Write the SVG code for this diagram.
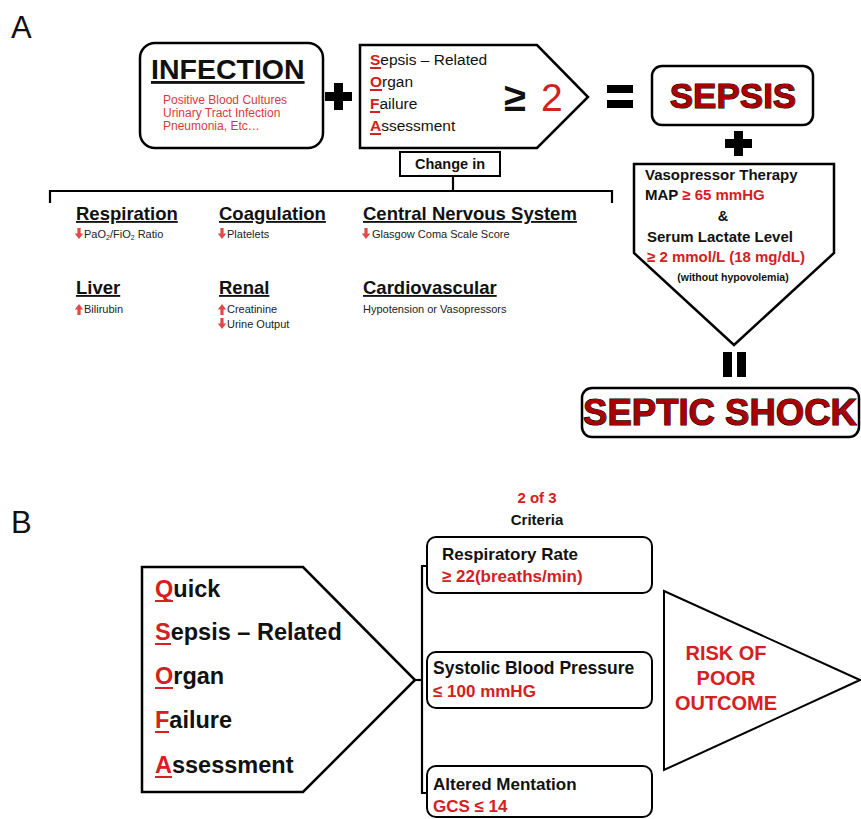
<svg xmlns="http://www.w3.org/2000/svg" width="861" height="819" viewBox="0 0 861 819">
<style>
text{font-family:"Liberation Sans",Arial,sans-serif;}
.box{fill:#fff;stroke:#000;stroke-width:2.5;}
.thin{fill:#fff;stroke:#000;stroke-width:2;}
.b{font-weight:bold;}
.red{fill:#d42020;}
.lred{fill:#d83a3a;}
.blk{fill:#111;}
.hdr{font-weight:bold;font-size:18.5px;fill:#111;text-decoration:underline;}
.sub{font-size:11px;fill:#222;}
.big{font-weight:bold;fill:#a80000;stroke:#000;stroke-width:1.1;paint-order:stroke;}
.ul{stroke:#d42020;stroke-width:2;}
.line{fill:none;stroke:#000;stroke-width:2.2;}
</style>
<defs>
<path id="dn" d="M-1.6,-6 h3.2 v5.5 h2.6 l-4.2,5.5 l-4.2,-5.5 h2.6 z" fill="#e24848"/>
<path id="up" d="M-1.6,6 h3.2 v-5.5 h2.6 l-4.2,-5.5 l-4.2,5.5 h2.6 z" fill="#e24848"/>
</defs>
<rect width="861" height="819" fill="#fff"/>
<text x="11" y="38" font-size="31" class="blk">A</text>
<text x="11" y="533" font-size="31" class="blk">B</text>

<g id="connectors">
<path class="line" d="M50,203 V191 H612 V203"/>
<path class="line" d="M453,191 V176"/>
<path class="line" d="M428,566 H422 V793 H428"/>
<path class="line" d="M415,680 H422"/>
</g>

<g id="infection">
<rect class="box" x="140" y="43" width="183" height="105" rx="15"/>
<text x="151" y="79" font-size="28.5" class="b blk" text-decoration="underline">INFECTION</text>
<text x="163" y="104" font-size="12" class="lred">Positive Blood Cultures</text>
<text x="163" y="117" font-size="12" class="lred">Urinary Tract Infection</text>
<text x="163" y="130" font-size="12" class="lred">Pneumonia,  Etc…</text>
</g>
<g id="plus1"><rect x="325" y="92" width="27" height="9" fill="#000"/><rect x="334" y="83" width="9" height="27" fill="#000"/></g>

<g id="sofa">
<polygon class="box" points="360,45 537,45 588,97 537,148 360,148"/>
<text x="370" y="65" font-size="15.5" class="blk"><tspan class="b red">S</tspan>epsis – Related</text>
<text x="370" y="87" font-size="15.5" class="blk"><tspan class="b red">O</tspan>rgan</text>
<text x="370" y="109" font-size="15.5" class="blk"><tspan class="b red">F</tspan>ailure</text>
<text x="370" y="131" font-size="15.5" class="blk"><tspan class="b red">A</tspan>ssessment</text>
<line class="ul" x1="370" y1="68" x2="381" y2="68"/>
<line class="ul" x1="370" y1="90" x2="382" y2="90"/>
<line class="ul" x1="370" y1="112" x2="380" y2="112"/>
<line class="ul" x1="370" y1="134" x2="381" y2="134"/>
<text x="504" y="111" font-size="40" class="b blk">≥</text>
<text x="541" y="111" font-size="39" class="red">2</text>
</g>

<g id="changein">
<rect class="thin" x="400" y="152" width="100" height="24"/>
<text x="450" y="169" font-size="14.5" class="b blk" text-anchor="middle">Change in</text>
</g>

<g id="eq1"><rect x="607" y="85" width="26" height="8" fill="#000"/><rect x="607" y="100" width="26" height="8" fill="#000"/></g>

<g id="sepsis">
<rect class="box" x="652" y="66" width="161" height="59" rx="10"/>
<text x="733" y="108" font-size="35" class="big" text-anchor="middle">SEPSIS</text>
</g>
<g id="plus2"><rect x="725" y="139" width="27" height="9" fill="#000"/><rect x="734" y="131" width="9" height="25" fill="#000"/></g>

<g id="vaso">
<polygon class="box" points="634,164 834,164 834,253 734,345 634,253"/>
<text x="645" y="180" font-size="15" class="b blk">Vasopressor Therapy</text>
<text x="645" y="200" font-size="15" class="b blk">MAP <tspan class="red">≥ 65 mmHG</tspan></text>
<text x="723" y="221" font-size="14.5" class="b blk" text-anchor="middle">&amp;</text>
<text x="647" y="242" font-size="15" class="b blk">Serum Lactate Level</text>
<text x="647" y="262" font-size="15" class="b red">≥ 2 mmol/L (18 mg/dL)</text>
<text x="733" y="281" font-size="10.5" class="b blk" text-anchor="middle">(without hypovolemia)</text>
</g>

<g id="eq2"><rect x="723" y="352" width="9" height="25" fill="#000"/><rect x="737" y="352" width="9" height="25" fill="#000"/></g>

<g id="septicshock">
<rect class="box" x="582" y="388" width="277" height="49" rx="10"/>
<text x="720" y="425" font-size="36.5" class="big" text-anchor="middle">SEPTIC SHOCK</text>
</g>

<g id="respiration">
<text x="76" y="220" class="hdr">Respiration</text>
<use href="#dn" x="79" y="234"/>
<text x="84" y="238" class="sub">PaO<tspan font-size="7" dy="2">2</tspan><tspan dy="-2">/FiO</tspan><tspan font-size="7" dy="2">2</tspan><tspan dy="-2"> Ratio</tspan></text>
</g>
<g id="coagulation">
<text x="219" y="220" class="hdr">Coagulation</text>
<use href="#dn" x="222" y="234"/>
<text x="227" y="238" class="sub">Platelets</text>
</g>
<g id="cns">
<text x="363" y="220" class="hdr">Central Nervous System</text>
<use href="#dn" x="366" y="234"/>
<text x="372" y="238" class="sub">Glasgow Coma Scale Score</text>
</g>
<g id="liver">
<text x="76" y="294" class="hdr">Liver</text>
<use href="#up" x="79" y="309"/>
<text x="84" y="313" class="sub">Bilirubin</text>
</g>
<g id="renal">
<text x="219" y="294" class="hdr">Renal</text>
<use href="#up" x="222" y="309"/>
<text x="227" y="313" class="sub">Creatinine</text>
<use href="#dn" x="222" y="324"/>
<text x="227" y="328" class="sub">Urine Output</text>
</g>
<g id="cardio">
<text x="363" y="294" class="hdr">Cardiovascular</text>
<text x="363" y="313" class="sub">Hypotension or Vasopressors</text>
</g>

<g id="qsofa">
<polygon class="box" points="142,567 303,567 415,680 303,792 142,792"/>
<text x="155" y="597" font-size="23.5" class="b blk"><tspan class="red">Q</tspan>uick</text>
<text x="155" y="640" font-size="23.5" class="b blk"><tspan class="red">S</tspan>epsis – Related</text>
<text x="155" y="684" font-size="23.5" class="b blk"><tspan class="red">O</tspan>rgan</text>
<text x="155" y="728" font-size="23.5" class="b blk"><tspan class="red">F</tspan>ailure</text>
<text x="155" y="773" font-size="23.5" class="b blk"><tspan class="red">A</tspan>ssessment</text>
<line class="ul" x1="155" y1="601" x2="173" y2="601"/>
<line class="ul" x1="155" y1="644" x2="171" y2="644"/>
<line class="ul" x1="155" y1="688" x2="173" y2="688"/>
<line class="ul" x1="155" y1="732" x2="169" y2="732"/>
<line class="ul" x1="155" y1="777" x2="172" y2="777"/>
</g>

<g id="criteria">
<text x="537" y="503" font-size="15" class="b red" text-anchor="middle">2 of 3</text>
<text x="537" y="525" font-size="15" class="b blk" text-anchor="middle">Criteria</text>
</g>

<g id="resp-rate">
<rect class="thin" x="427" y="537" width="225" height="56" rx="9"/>
<text x="442" y="560" font-size="17" class="b blk">Respiratory Rate</text>
<text x="442" y="582" font-size="17" class="b red">≥ 22(breaths/min)</text>
</g>
<g id="sbp">
<rect class="thin" x="427" y="652" width="225" height="56" rx="9"/>
<text x="433" y="674" font-size="17.5" class="b blk">Systolic Blood Pressure</text>
<text x="433" y="697" font-size="17" class="b red">≤ 100 mmHG</text>
</g>
<g id="mentation">
<rect class="thin" x="427" y="766" width="225" height="51" rx="9"/>
<text x="433" y="790" font-size="17" class="b blk">Altered Mentation</text>
<text x="433" y="812" font-size="17" class="b red">GCS ≤ 14</text>
</g>

<g id="risk">
<polygon class="thin" points="664,591 860,680 664,770"/>
<text x="726" y="660" font-size="20" class="b red" text-anchor="middle">RISK OF</text>
<text x="726" y="685" font-size="20" class="b red" text-anchor="middle">POOR</text>
<text x="726" y="710" font-size="20" class="b red" text-anchor="middle">OUTCOME</text>
</g>
</svg>
